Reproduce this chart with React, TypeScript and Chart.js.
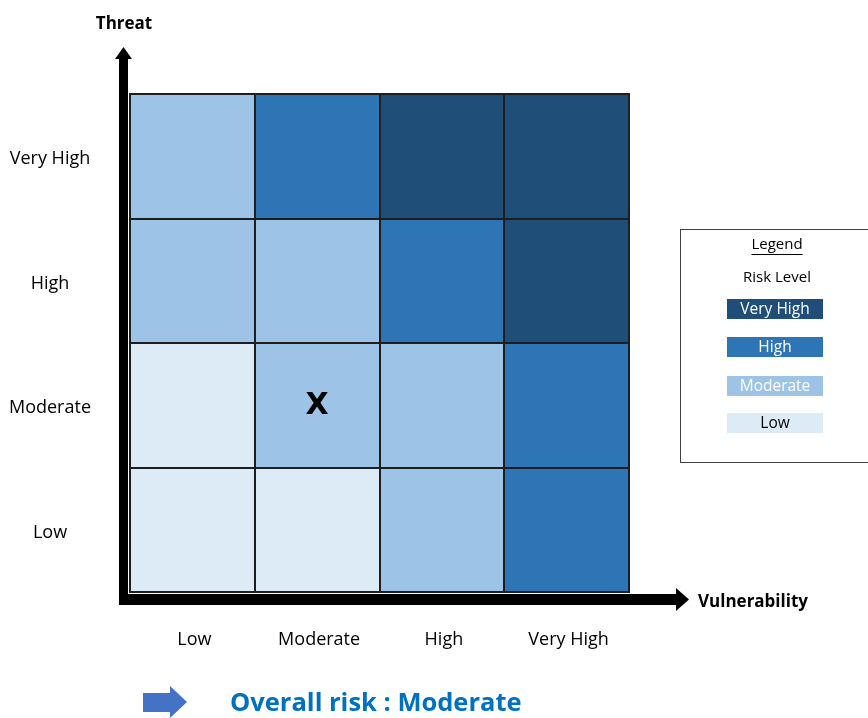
import React, { useEffect, useRef } from 'react';
import { Chart, registerables } from 'chart.js';

Chart.register(...registerables);

// ---- data ----
const vulnerabilityLevels = ['Low', 'Moderate', 'High', 'Very High'];
const threatLevels = ['Low', 'Moderate', 'High', 'Very High']; // bottom -> top
const riskLevels = ['Very High', 'High', 'Moderate', 'Low'];
const riskColors = ['#1F4E79', '#2E75B6', '#9DC3E6', '#DDEBF7'];
const riskTextColors = ['#FFFFFF', '#FFFFFF', '#FFFFFF', '#000000'];
// risk level for each vulnerability column, one list per threat row
const riskLowThreat = ['Low', 'Low', 'Moderate', 'High'];
const riskModerateThreat = ['Low', 'Moderate', 'Moderate', 'High'];
const riskHighThreat = ['Moderate', 'Moderate', 'High', 'Very High'];
const riskVeryHighThreat = ['Moderate', 'High', 'Very High', 'Very High'];
const cellSpan = [1, 1, 1, 1];
const assessedVulnerability = 'Moderate';
const assessedThreat = 'Moderate';
const overallRisk = 'Moderate';

const riskRows = [riskLowThreat, riskModerateThreat, riskHighThreat, riskVeryHighThreat];
const colorOf = (r: string) => riskColors[riskLevels.indexOf(r)];

const FONT = "'Open Sans', sans-serif";

const decorPlugin = {
  id: 'decor',
  afterDatasetsDraw(chart: any) {
    const { ctx } = chart;
    ctx.save();
    ctx.strokeStyle = '#1e1e1e';
    ctx.lineWidth = 2;
    chart.data.datasets.forEach((_: any, di: number) => {
      const meta = chart.getDatasetMeta(di);
      meta.data.forEach((bar: any) => {
        const p = bar.getProps(['x', 'y', 'base', 'width'], true);
        const l = Math.round(p.x - p.width / 2);
        const r = Math.round(p.x + p.width / 2);
        const t = Math.round(Math.min(p.y, p.base));
        const b = Math.round(Math.max(p.y, p.base));
        ctx.strokeRect(l, t, r - l, b - t);
      });
    });
    ctx.restore();
  },
  afterDraw(chart: any) {
    const { ctx, chartArea: ca, scales } = chart;
    const xs = scales.x;
    const ys = scales.y;
    ctx.save();

    // Y axis arrow
    ctx.fillStyle = '#000';
    ctx.fillRect(ca.left - 11, 58, 9, ca.bottom + 13 - 58);
    ctx.beginPath();
    ctx.moveTo(ca.left - 6.5, 47);
    ctx.lineTo(ca.left - 15, 59);
    ctx.lineTo(ca.left + 2, 59);
    ctx.closePath();
    ctx.fill();

    // X axis arrow
    ctx.fillRect(ca.left - 11, ca.bottom + 2, 677 - (ca.left - 11), 11);
    ctx.beginPath();
    ctx.moveTo(676, ca.bottom - 4);
    ctx.lineTo(689, ca.bottom + 7.5);
    ctx.lineTo(676, ca.bottom + 19);
    ctx.closePath();
    ctx.fill();

    // axis titles
    ctx.fillStyle = '#000';
    ctx.font = `bold 17px ${FONT}`;
    ctx.textBaseline = 'middle';
    ctx.textAlign = 'center';
    ctx.fillText('Threat', ca.left - 6, 24);
    ctx.textAlign = 'left';
    ctx.fillText('Vulnerability', 698, ca.bottom + 10);

    // assessed marker
    const mx = xs.getPixelForValue(vulnerabilityLevels.indexOf(assessedVulnerability));
    const my = ys.getPixelForValue(threatLevels.indexOf(assessedThreat) + 0.5);
    ctx.font = "bold 30px 'DejaVu Sans', sans-serif";
    ctx.textAlign = 'center';
    ctx.fillText('X', mx, my + 1);

    // legend box
    ctx.strokeStyle = '#404040';
    ctx.lineWidth = 1;
    ctx.strokeRect(680.5, 229.5, 300, 233);
    ctx.fillStyle = '#000';
    ctx.font = `15px ${FONT}`;
    ctx.textAlign = 'center';
    ctx.fillText('Legend', 777, 245);
    const lw = ctx.measureText('Legend').width;
    ctx.fillRect(777 - lw / 2, 254, lw, 1);
    ctx.fillText('Risk Level', 777, 278);
    const centers = [309, 347, 386, 423];
    ctx.font = `15.5px ${FONT}`;
    riskLevels.forEach((r, i) => {
      ctx.fillStyle = riskColors[i];
      ctx.fillRect(727, centers[i] - 10, 96, 20);
      ctx.fillStyle = riskTextColors[i];
      ctx.fillText(r, 775, centers[i] + 1);
    });

    // overall risk
    ctx.fillStyle = '#4472C4';
    ctx.beginPath();
    ctx.moveTo(143, 693);
    ctx.lineTo(170, 693);
    ctx.lineTo(170, 686);
    ctx.lineTo(187, 702);
    ctx.lineTo(170, 718);
    ctx.lineTo(170, 712);
    ctx.lineTo(143, 712);
    ctx.closePath();
    ctx.fill();
    ctx.fillStyle = '#0070C0';
    ctx.font = `bold 25.5px ${FONT}`;
    ctx.textAlign = 'left';
    ctx.fillText(`Overall risk : ${overallRisk}`, 230, 704);

    ctx.restore();
  },
};

export default function App() {
  const ref = useRef<HTMLCanvasElement | null>(null);

  useEffect(() => {
    if (!ref.current) return;
    Chart.defaults.font.family = FONT;
    const chart = new Chart(ref.current, {
      type: 'bar',
      data: {
        labels: vulnerabilityLevels,
        datasets: threatLevels.map((t, i) => ({
          label: t,
          data: cellSpan,
          backgroundColor: riskRows[i].map(colorOf),
          borderWidth: 0,
          inflateAmount: 0,
          barPercentage: 1,
          categoryPercentage: 1,
        })),
      },
      options: {
        responsive: false,
        animation: false,
        devicePixelRatio: 1,
        layout: { padding: { top: 94, right: 239, bottom: 0, left: 0 } },
        plugins: { legend: { display: false }, tooltip: { enabled: false } },
        scales: {
          x: {
            type: 'category',
            stacked: true,
            grid: { display: false },
            border: { display: false },
            ticks: { color: '#000', font: { size: 18 }, padding: 29, maxRotation: 0, labelOffset: 2 },
            afterFit: (s: any) => { s.height = 126; },
          },
          y: {
            type: 'linear',
            stacked: true,
            min: 0,
            max: 4,
            grid: { display: false },
            border: { display: false },
            afterBuildTicks: (s: any) => {
              s.ticks = threatLevels.map((_, i) => ({ value: i + 0.5 }));
            },
            ticks: {
              color: '#000',
              font: { size: 18 },
              padding: 31,
              crossAlign: 'center',
              labelOffset: 3,
              callback: (v: any) => threatLevels[Math.floor(Number(v))],
            },
            afterFit: (s: any) => { s.width = 130; },
          },
        },
      },
      plugins: [decorPlugin],
    } as any);
    return () => chart.destroy();
  }, []);

  return (
    <div style={{ position: 'absolute', left: 0, top: 0, width: 868, height: 718, background: '#fff' }}>
      <canvas ref={ref} width={868} height={718} />
    </div>
  );
}
